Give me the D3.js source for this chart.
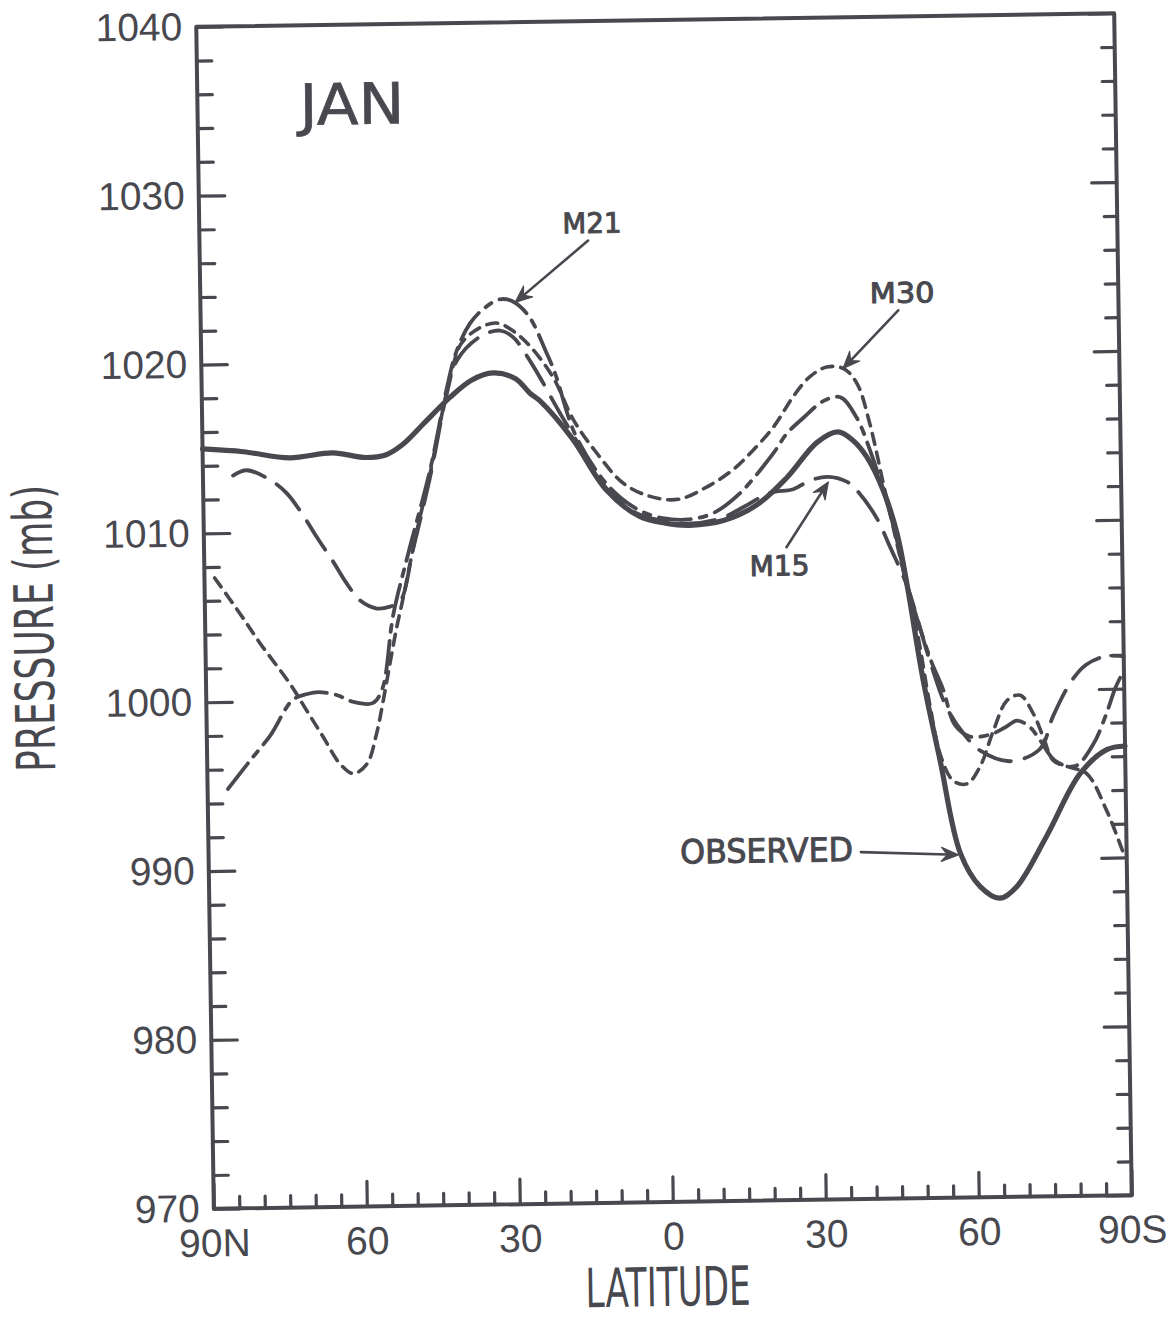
<!DOCTYPE html>
<html>
<head>
<meta charset="utf-8">
<script src="https://cdn.jsdelivr.net/npm/d3@7"></script>
<style>
html, body { margin: 0; padding: 0; background: #fff; }
svg { display: block; }
</style>
</head>
<body>
<div id="chart"></div>
<script>
///// DATOS //////
// latitude: north positive, south negative
const latTicks = [90, 60, 30, 0, -30, -60, -90];
const latTickLabels = ['90N', '60', '30', '0', '30', '60', '90S'];
const pressureTicks = [1040, 1030, 1020, 1010, 1000, 990, 980, 970];

const obsLat = [90, 82, 73, 64.5, 58, 54, 50.7, 46.6, 41.3, 37, 32.8, 28.5, 25.6, 23.7, 17.5, 10.9, 4.4, -0.5, -5.3, -11.9, -18.5, -24.5, -30.5, -34.6, -37.5, -40.2, -43.4, -45.9, -47.7, -50.6, -53.7, -57.4, -61.2, -65, -68.3, -74.3, -81.1, -86.4, -90];
const obsP = [1015.0, 1014.8, 1014.4, 1014.65, 1014.35, 1014.5, 1015.1, 1016.3, 1017.85, 1018.85, 1019.25, 1018.9, 1018.0, 1017.55, 1015.3, 1012.2, 1010.6, 1010.2, 1010.05, 1010.3, 1011.2, 1012.8, 1014.85, 1015.45, 1014.95, 1013.95, 1011.9, 1009.4, 1006.4, 1000.7, 995.9, 990.4, 988.4, 987.7, 988.35, 991.3, 995.0, 996.4, 996.6];

const m15Lat = [84.1, 81.4, 76.8, 73.6, 70.1, 67.9, 64.7, 62.1, 59.6, 56.3, 53.7, 51.7, 49, 45.5, 42, 39.9, 35.3, 31.3, 28.8, 24.9, 19.8, 15, 10.9, 5, 0, -5, -11.5, -16, -21.1, -25.7, -29, -32.5, -36.2, -38.1, -42, -44.5, -47.7, -52, -55.2, -58.7, -61.6, -67.4, -73.3, -76, -79.7, -82.6, -86.7, -90];
const m15P = [1013.4, 1013.7, 1013.1, 1012.3, 1010.8, 1009.7, 1008.2, 1006.9, 1005.9, 1005.4, 1005.5, 1005.8, 1008.9, 1013.1, 1018.0, 1020.0, 1021.4, 1021.75, 1021.35, 1019.6, 1016.8, 1014.3, 1012.3, 1010.8, 1010.35, 1010.15, 1010.45, 1011.1, 1011.9, 1012.1, 1012.6, 1012.8, 1012.5, 1012.0, 1010.3, 1008.6, 1006.3, 1001.8, 999.0, 997.35, 996.45, 995.8, 996.5, 998.45, 1000.5, 1001.45, 1001.95, 1001.9];

const m21Lat = [86, 81.6, 77.5, 73.1, 70.2, 67.9, 64.3, 61.3, 57.4, 55.5, 53.1, 50, 45.5, 42, 40, 37.2, 34.3, 31.3, 29, 25.7, 22.3, 20.7, 17, 12, 8, 4, 0, -5, -9.9, -15.2, -21.9, -24.6, -28, -31.9, -35.2, -38.3, -40.9, -43.4, -45.5, -47.7, -52, -54.5, -56.7, -59.6, -63.6, -66.5, -68.9, -71.4, -73.4, -76.2, -80.1, -83.7, -86.4, -88.2, -89.5];
const m21P = [994.85, 996.5, 998.0, 1000.05, 1000.4, 1000.5, 1000.3, 999.9, 999.8, 1000.6, 1005.0, 1008.6, 1013.5, 1018.3, 1020.5, 1022.2, 1023.1, 1023.6, 1023.5, 1022.6, 1020.4, 1019.2, 1015.6, 1013.0, 1011.7, 1010.9, 1010.5, 1010.4, 1010.75, 1011.9, 1014.25, 1015.4, 1016.35, 1017.3, 1017.5, 1016.3, 1014.3, 1011.9, 1009.5, 1006.4, 1002.0, 1000.1, 998.0, 997.3, 997.4, 997.8, 998.2, 997.8, 997.0, 995.8, 995.45, 996.7, 998.5, 1000.0, 1000.8];

const m30Lat = [88, 83.1, 79.3, 73.5, 70.4, 67.2, 64, 61.4, 58.7, 56.7, 55.4, 53.9, 52.5, 51.1, 48.5, 45.5, 43, 41, 39, 35.5, 32, 28.7, 25.5, 21, 17.2, 12.7, 7.6, 2.4, -3.1, -8.7, -13.9, -17.8, -22, -26, -29.3, -32.6, -35.9, -38.5, -40.9, -43.4, -46, -49.5, -51.9, -53.7, -56.2, -58.9, -61.5, -64.2, -67, -69.6, -72.1, -74, -75.9, -79, -82.4, -86.2, -89.2];
const m30P = [1007.35, 1005.2, 1003.45, 1001.0, 999.45, 997.85, 996.25, 995.65, 996.2, 998.0, 999.8, 1002.1, 1004.2, 1006.0, 1009.6, 1013.3, 1016.8, 1019.3, 1021.0, 1021.9, 1022.2, 1021.7, 1020.8, 1018.9, 1016.4, 1014.4, 1012.6, 1011.8, 1011.6, 1012.3, 1013.3, 1014.4, 1015.8, 1017.6, 1018.75, 1019.3, 1019.2, 1018.3, 1015.9, 1012.3, 1008.6, 1003.65, 999.1, 996.3, 994.7, 994.5, 995.5, 997.6, 999.4, 999.7, 998.6, 997.2, 995.8, 995.4, 995.0, 992.8, 990.4];

// rótulos dentro del gráfico (posición en unidades de datos: latitud, presión de la línea base)
const noteText = ['JAN', 'M21', 'M30', 'M15', 'OBSERVED'];
const noteLat = [59.7, 13.0, -47.6, -22.8, -19.4];
const noteP = [1034.1, 1027.45, 1023.05, 1007.0, 990.03];

// flechas: desde [lat, p] hasta [lat, p]
const arrowFrom = [[13.8, 1027.0], [-46.8, 1022.6], [-24.2, 1008.67], [-37.9, 990.55]];
const arrowTo = [[28.3, 1023.4], [-35.8, 1019.2], [-32.6, 1012.5], [-57.0, 990.3]];

///// ESTILOS //////
const ink = '#48484f';
const noteSize = {JAN: 57, M21: 28, M30: 28, M15: 28, OBSERVED: 33};
const noteWidth = {JAN: 105, M21: 59, M30: 65, M15: 60, OBSERVED: 173};

///// VISUALIZACIÓN DEL GRÁFICO //////
let margin = {top: 20, right: 48, bottom: 119, left: 205};
let fullW = 1171, fullH = 1321;
let width = fullW - margin.left - margin.right,
    height = fullH - margin.top - margin.bottom;

let svg = d3.select('#chart')
    .append('svg')
    .attr('width', fullW)
    .attr('height', fullH);

// the scanned figure is tilted a little, so the whole chart is too
let chart = svg.append('g')
    .attr('transform', 'rotate(-0.85 664 611) translate(' + margin.left + ',' + margin.top + ')')
    .style('color', ink);

let x = d3.scaleLinear().domain([90, -90]).range([0, width]);
let y = d3.scaleLinear().domain([970, 1040]).range([height, 0]);

let tickFont = "'Liberation Sans', Arial, sans-serif";
let condFont = "'Liberation Sans Narrow', 'DejaVu Sans Condensed', 'Liberation Sans', sans-serif";
let letterFont = "'DejaVu Sans', 'Liberation Sans', sans-serif";

//Ejes
let minorLat = d3.range(-85, 90, 5).filter(function(d) { return d % 30 != 0; });
let minorP = d3.range(972, 1040, 2).filter(function(d) { return d % 10 != 0; });

function styleAxis(g) {
    g.select('.domain').remove();
    g.selectAll('.tick line').attr('stroke-width', 3.2).attr('stroke-linecap', 'round');
}

chart.append('g')
    .attr('transform', 'translate(0,' + height + ')')
    .call(d3.axisBottom(x).tickValues(minorLat).tickFormat('').tickSize(-12))
    .call(styleAxis);

chart.append('g')
    .attr('transform', 'translate(0,' + height + ')')
    .call(d3.axisBottom(x).tickValues(latTicks)
        .tickFormat(function(d, i) { return latTickLabels[i]; })
        .tickSize(-25).tickPadding(20))
    .call(styleAxis)
    .selectAll('text')
    .attr('font-family', tickFont)
    .attr('font-size', 39)
    .attr('fill', ink);

chart.append('g')
    .call(d3.axisLeft(y).tickValues(minorP).tickFormat('').tickSize(-15))
    .call(styleAxis);

chart.append('g')
    .call(d3.axisLeft(y).tickValues(pressureTicks).tickFormat(d3.format('d')).tickSize(-26).tickPadding(14))
    .call(styleAxis)
    .selectAll('text')
    .attr('font-family', tickFont)
    .attr('font-size', 39)
    .attr('fill', ink);

chart.append('g')
    .attr('transform', 'translate(' + width + ',0)')
    .call(d3.axisRight(y).tickValues(minorP).tickFormat('').tickSize(-13))
    .call(styleAxis);

chart.append('g')
    .attr('transform', 'translate(' + width + ',0)')
    .call(d3.axisRight(y).tickValues(pressureTicks).tickFormat('').tickSize(-25))
    .call(styleAxis);

//Marco
chart.append('rect')
    .attr('x', 0).attr('y', 0)
    .attr('width', width).attr('height', height)
    .attr('fill', 'none')
    .attr('stroke', ink)
    .attr('stroke-width', 4)
    .attr('stroke-linejoin', 'round');

//Títulos de los ejes
chart.append('text')
    .attr('transform', 'translate(' + (53 - margin.left) + ',' + (y(1005) + 8) + ') rotate(-90)')
    .attr('text-anchor', 'middle')
    .attr('font-family', condFont)
    .attr('font-size', 54)
    .attr('textLength', 287)
    .attr('lengthAdjust', 'spacingAndGlyphs')
    .attr('fill', ink)
    .text('PRESSURE  (mb)');

chart.append('text')
    .attr('x', x(0) - 6)
    .attr('y', height + 104)
    .attr('text-anchor', 'middle')
    .attr('font-family', condFont)
    .attr('font-size', 54)
    .attr('textLength', 165)
    .attr('lengthAdjust', 'spacingAndGlyphs')
    .attr('fill', ink)
    .text('LATITUDE');

//Líneas
let line = d3.line()
    .x(function(d) { return x(d[0]); })
    .y(function(d) { return y(d[1]); })
    .curve(d3.curveCatmullRom.alpha(0.5));

let series = [
    {key: 'M15', lat: m15Lat, p: m15P, width: 3.8, dash: '34,14'},
    {key: 'M21', lat: m21Lat, p: m21P, width: 3.8, dash: '32,9,7,9'},
    {key: 'M30', lat: m30Lat, p: m30P, width: 3.6, dash: '11,8'},
    {key: 'OBSERVED', lat: obsLat, p: obsP, width: 5.2, dash: null}
];

chart.selectAll('.line')
    .data(series)
    .enter()
    .append('path')
    .attr('class', 'line')
    .attr('fill', 'none')
    .attr('stroke', ink)
    .attr('stroke-width', function(d) { return d.width; })
    .attr('stroke-linecap', 'round')
    .attr('stroke-linejoin', 'round')
    .attr('stroke-dasharray', function(d) { return d.dash; })
    .attr('d', function(d) {
        return line(d.lat.map(function(v, i) { return [v, d.p[i]]; }));
    });

//Rótulos
chart.selectAll('.note')
    .data(noteText)
    .enter()
    .append('text')
    .attr('class', 'note')
    .attr('x', function(d, i) { return x(noteLat[i]); })
    .attr('y', function(d, i) { return y(noteP[i]); })
    .attr('text-anchor', 'middle')
    .attr('font-family', letterFont)
    .attr('font-size', function(d) { return noteSize[d]; })
    .attr('textLength', function(d) { return noteWidth[d]; })
    .attr('lengthAdjust', 'spacingAndGlyphs')
    .attr('fill', ink)
    .attr('stroke', ink)
    .attr('stroke-width', function(d) { return d == 'JAN' ? 0.6 : 1; })
    .text(function(d) { return d; });

//Flechas
arrowFrom.forEach(function(f, i) {
    let fx = x(f[0]), fy = y(f[1]);
    let tx = x(arrowTo[i][0]), ty = y(arrowTo[i][1]);
    let len = Math.hypot(tx - fx, ty - fy);
    let ux = (tx - fx) / len, uy = (ty - fy) / len;
    let nx = -uy, ny = ux;
    let L = 17, W = 7, notch = 6;

    chart.append('line')
        .attr('x1', fx).attr('y1', fy)
        .attr('x2', tx - (L - notch) * ux).attr('y2', ty - (L - notch) * uy)
        .attr('stroke', ink)
        .attr('stroke-width', 2.6)
        .attr('stroke-linecap', 'round');

    chart.append('path')
        .attr('d', 'M' + tx + ',' + ty +
            'L' + (tx - L * ux + W * nx) + ',' + (ty - L * uy + W * ny) +
            'L' + (tx - (L - notch) * ux) + ',' + (ty - (L - notch) * uy) +
            'L' + (tx - L * ux - W * nx) + ',' + (ty - L * uy - W * ny) + 'Z')
        .attr('fill', ink)
        .attr('stroke', ink)
        .attr('stroke-width', 1.2)
        .attr('stroke-linejoin', 'round');
});
</script>
</body>
</html>
